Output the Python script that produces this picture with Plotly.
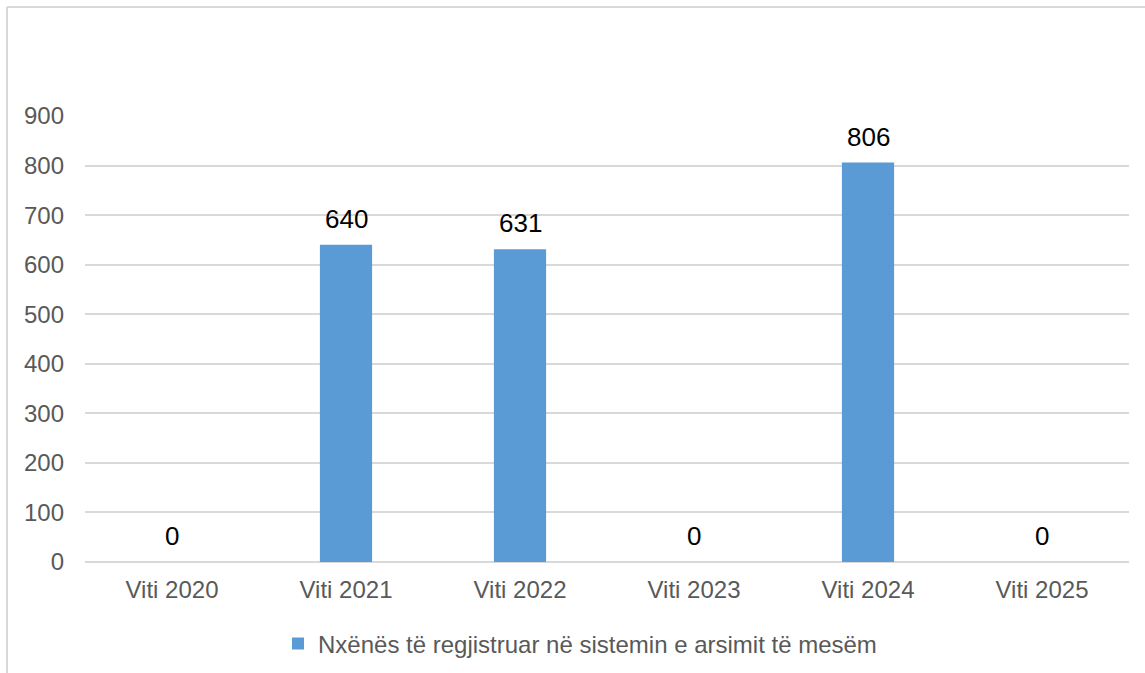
import plotly.graph_objects as go

categories = ["Viti 2020", "Viti 2021", "Viti 2022", "Viti 2023", "Viti 2024", "Viti 2025"]
values = [0, 640, 631, 0, 806, 0]
series_name = "Nxënës të regjistruar në sistemin e arsimit të mesëm"
y_ticks = [0, 100, 200, 300, 400, 500, 600, 700, 800, 900]

W, H = 1145, 673
L, R, T, B = 85, 16, 116, 111
pw, ph = W - L - R, H - T - B

def px_x(px):
    return (px - L) / pw

def px_y(py):
    return (H - B - py) / ph

BLUE = "#5B9BD5"
GRID = "#D9D9D9"
TXT = "#595959"
FONT = "Liberation Sans, Arial, sans-serif"

fig = go.Figure()
fig.add_trace(go.Bar(
    x=categories, y=values, name=series_name,
    marker=dict(color=BLUE, line=dict(width=0)),
    showlegend=True,
))

for c, v in zip(categories, values):
    fig.add_annotation(x=c, y=v, text=str(v), showarrow=False,
                       yanchor="middle", yshift=26,
                       font=dict(family=FONT, size=26, color="#000000"))

shapes = [
    dict(type="line", xref="paper", yref="paper", x0=px_x(7), x1=px_x(W + 5),
         y0=px_y(7), y1=px_y(7), line=dict(color=GRID, width=2)),
    dict(type="line", xref="paper", yref="paper", x0=px_x(7), x1=px_x(7),
         y0=px_y(7), y1=px_y(H + 5), line=dict(color=GRID, width=2)),
]

fig.update_layout(
    width=W, height=H,
    margin=dict(l=L, r=R, t=T, b=B, autoexpand=False),
    paper_bgcolor="white", plot_bgcolor="white",
    bargap=0.7,
    font=dict(family=FONT, size=24, color=TXT),
    shapes=shapes,
    legend=dict(orientation="h", x=px_x(278), xanchor="left", y=px_y(644), yanchor="middle",
                font=dict(family=FONT, size=24, color=TXT), itemwidth=30,
                bgcolor="rgba(0,0,0,0)"),
    xaxis=dict(showgrid=False, showline=False, ticks="", zeroline=False, automargin=False,
               tickfont=dict(family=FONT, size=24, color=TXT), ticklabelstandoff=11),
    yaxis=dict(range=[0, 900], tickvals=y_ticks, showgrid=True, gridcolor=GRID, gridwidth=1.5,
               zeroline=True, zerolinecolor=GRID, zerolinewidth=1.5, showline=False, ticks="",
               automargin=False,
               tickfont=dict(family=FONT, size=24, color=TXT), ticklabelstandoff=20),
)

fig.write_html("out.html", config={"displayModeBar": False},
               post_script="document.body.style.margin='0';document.body.style.overflow='hidden';")
